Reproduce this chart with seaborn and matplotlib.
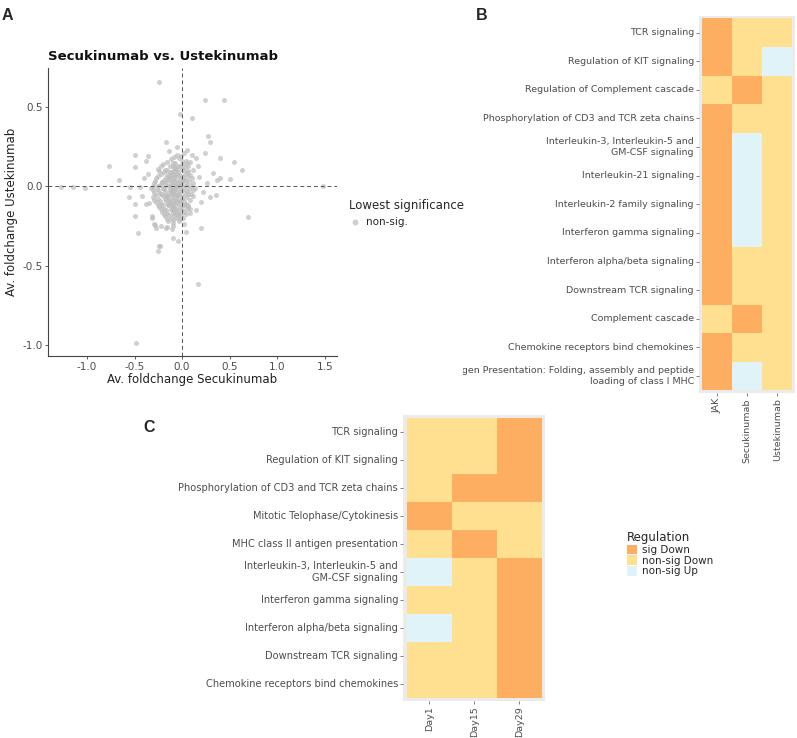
import pandas as pd
import matplotlib
matplotlib.use("Agg")
import matplotlib.pyplot as plt
import seaborn as sns
from matplotlib.colors import ListedColormap
from matplotlib.patches import Patch
from matplotlib.lines import Line2D
from matplotlib.transforms import Bbox, TransformedBbox

# === DATA ===
# panel A : (av. foldchange Secukinumab, av. foldchange Ustekinumab)
fc_points = [
    # dense core
    (-0.05, 0.20), (0.02, 0.21), (-0.12, 0.17), (-0.03, 0.18), (0.04, 0.16),
    (-0.20, 0.14), (-0.10, 0.15), (-0.04, 0.13), (0.01, 0.14), (0.06, 0.13),
    (-0.25, 0.11), (-0.16, 0.10), (-0.09, 0.12), (-0.05, 0.10), (0.00, 0.11), (0.05, 0.09),
    (-0.22, 0.08), (-0.15, 0.07), (-0.11, 0.09), (-0.06, 0.08), (-0.02, 0.07), (0.03, 0.08), (0.08, 0.07),
    (-0.27, 0.05), (-0.19, 0.04), (-0.14, 0.06), (-0.10, 0.05), (-0.06, 0.04), (-0.01, 0.05), (0.04, 0.04), (0.10, 0.05),
    (-0.30, 0.02), (-0.23, 0.01), (-0.17, 0.03), (-0.12, 0.02), (-0.08, 0.01), (-0.04, 0.02), (0.00, 0.03), (0.05, 0.01), (0.12, 0.02),
    (-0.33, -0.01), (-0.26, -0.02), (-0.20, -0.01), (-0.15, 0.00), (-0.11, -0.02), (-0.07, -0.01), (-0.03, 0.00), (0.02, -0.01), (0.07, -0.02), (0.14, -0.01),
    (-0.29, -0.04), (-0.23, -0.05), (-0.18, -0.03), (-0.14, -0.04), (-0.10, -0.05), (-0.06, -0.04), (-0.02, -0.03), (0.03, -0.04), (0.09, -0.05),
    (-0.31, -0.07), (-0.25, -0.08), (-0.20, -0.06), (-0.16, -0.07), (-0.12, -0.08), (-0.08, -0.07), (-0.04, -0.06), (0.00, -0.08), (0.05, -0.07), (0.11, -0.06),
    (-0.27, -0.10), (-0.22, -0.11), (-0.17, -0.09), (-0.13, -0.10), (-0.09, -0.11), (-0.05, -0.10), (-0.01, -0.09), (0.04, -0.11),
    (-0.24, -0.13), (-0.19, -0.14), (-0.14, -0.12), (-0.10, -0.13), (-0.06, -0.14), (-0.02, -0.13), (0.03, -0.12), (0.08, -0.14),
    (-0.21, -0.16), (-0.16, -0.17), (-0.11, -0.15), (-0.07, -0.16), (-0.03, -0.17), (0.02, -0.16),
    (-0.18, -0.19), (-0.12, -0.20), (-0.08, -0.18), (-0.04, -0.19), (0.01, -0.20),
    (-0.15, -0.22), (-0.09, -0.23), (-0.03, -0.22),
    (-0.13, 0.045), (-0.08, -0.025), (-0.03, -0.05), (-0.17, -0.055), (-0.085, 0.07), (-0.12, -0.03),
    (-0.06, -0.09), (-0.01, 0.015), (-0.21, 0.025), (-0.15, -0.115), (-0.07, 0.11), (-0.19, 0.09),
    # core, second pass
    (-0.08, 0.185), (-0.01, 0.19),
    (-0.16, 0.155), (-0.07, 0.15), (0.00, 0.16), (0.05, 0.15),
    (-0.22, 0.125), (-0.13, 0.13), (-0.07, 0.12), (-0.02, 0.125), (0.03, 0.12),
    (-0.24, 0.095), (-0.18, 0.10), (-0.13, 0.09), (-0.08, 0.095), (-0.04, 0.09), (0.01, 0.10), (0.06, 0.095),
    (-0.25, 0.065), (-0.17, 0.06), (-0.12, 0.07), (-0.08, 0.06), (-0.04, 0.065), (0.01, 0.06), (0.06, 0.065),
    (-0.28, 0.035), (-0.21, 0.03), (-0.16, 0.04), (-0.11, 0.035), (-0.07, 0.03), (-0.02, 0.035), (0.02, 0.04), (0.07, 0.035),
    (-0.31, 0.005), (-0.25, 0.00), (-0.18, 0.01), (-0.13, 0.005), (-0.09, 0.00), (-0.05, 0.005), (-0.01, 0.00), (0.04, 0.01), (0.09, 0.005),
    (-0.31, -0.025), (-0.24, -0.03), (-0.19, -0.02), (-0.13, -0.025), (-0.09, -0.03), (-0.05, -0.02), (0.00, -0.025), (0.05, -0.03), (0.11, -0.025),
    (-0.27, -0.055), (-0.21, -0.05), (-0.16, -0.06), (-0.12, -0.055), (-0.08, -0.05), (-0.04, -0.055), (0.01, -0.06), (0.06, -0.05),
    (-0.29, -0.085), (-0.23, -0.09), (-0.18, -0.08), (-0.14, -0.085), (-0.10, -0.09), (-0.06, -0.08), (-0.02, -0.085), (0.02, -0.09), (0.08, -0.085),
    (-0.25, -0.115), (-0.20, -0.12), (-0.15, -0.11), (-0.11, -0.115), (-0.07, -0.12), (-0.03, -0.11), (0.01, -0.115), (0.06, -0.12),
    (-0.22, -0.145), (-0.17, -0.15), (-0.12, -0.14), (-0.08, -0.145), (-0.04, -0.15), (0.00, -0.14), (0.05, -0.145),
    (-0.19, -0.175), (-0.14, -0.18), (-0.09, -0.17), (-0.05, -0.175), (-0.01, -0.18), (0.04, -0.175),
    (-0.16, -0.205), (-0.10, -0.21), (-0.06, -0.20), (-0.02, -0.205),
    # scattered halo
    (-0.24, 0.66), (0.245, 0.545), (0.44, 0.545), (-0.02, 0.455), (0.10, 0.43), (0.27, 0.315),
    (0.29, 0.28), (-0.17, 0.28), (-0.49, 0.20), (-0.36, 0.19), (-0.38, 0.16), (-0.77, 0.13),
    (-0.49, 0.12), (0.40, 0.177), (0.55, 0.154), (0.63, 0.10), (0.24, 0.21), (0.17, 0.126),
    (0.08, 0.155), (0.15, 0.177), (0.325, 0.082), (0.40, 0.05), (0.50, 0.046), (0.37, 0.04),
    (-0.66, 0.04), (-0.55, -0.005), (-0.44, -0.005), (-1.27, -0.005), (-1.15, -0.005), (-1.02, -0.01),
    (1.48, 0.0), (-0.555, -0.065), (-0.50, -0.113), (-0.50, -0.185), (-0.375, -0.11), (-0.35, -0.107),
    (-0.32, -0.19), (-0.30, -0.24), (-0.46, -0.296), (-0.24, -0.374), (-0.23, -0.376), (-0.25, -0.405),
    (-0.09, -0.327), (-0.04, -0.345), (0.04, -0.286), (0.196, -0.265), (0.69, -0.195), (0.29, -0.065),
    (0.36, -0.054), (0.22, -0.033), (0.06, -0.128), (0.08, -0.17), (-0.16, -0.254), (-0.10, -0.25),
    (-0.22, -0.25), (0.17, -0.617), (-0.48, -0.985), (-0.27, -0.265), (-0.17, -0.26), (-0.11, -0.27),
    (-0.32, -0.20), (-0.28, -0.245), (0.18, 0.06), (0.20, -0.10), (0.15, -0.15), (0.12, 0.10),
    (-0.40, 0.05), (-0.42, -0.06), (-0.36, 0.08), (0.26, 0.02), (0.02, -0.24), (-0.05, 0.25),
    (0.05, 0.23), (-0.14, 0.22), (0.10, 0.20),
]
secu_fc = [p[0] for p in fc_points]
uste_fc = [p[1] for p in fc_points]

# panel B
pathways_b = [
    "TCR signaling",
    "Regulation of KIT signaling",
    "Regulation of Complement cascade",
    "Phosphorylation of CD3 and TCR zeta chains",
    "Interleukin-3, Interleukin-5 and\nGM-CSF signaling",
    "Interleukin-21 signaling",
    "Interleukin-2 family signaling",
    "Interferon gamma signaling",
    "Interferon alpha/beta signaling",
    "Downstream TCR signaling",
    "Complement cascade",
    "Chemokine receptors bind chemokines",
    "Antigen Presentation: Folding, assembly and peptide\nloading of class I MHC",
]
treatments_b = ["JAK", "Secukinumab", "Ustekinumab"]
jak_reg = ["sig Down", "sig Down", "non-sig Down", "sig Down", "sig Down", "sig Down", "sig Down",
           "sig Down", "sig Down", "sig Down", "non-sig Down", "sig Down", "sig Down"]
secu_reg = ["non-sig Down", "non-sig Down", "sig Down", "non-sig Down", "non-sig Up", "non-sig Up",
            "non-sig Up", "non-sig Up", "non-sig Down", "non-sig Down", "sig Down", "non-sig Down", "non-sig Up"]
uste_reg = ["non-sig Down", "non-sig Up", "non-sig Down", "non-sig Down", "non-sig Down", "non-sig Down",
            "non-sig Down", "non-sig Down", "non-sig Down", "non-sig Down", "non-sig Down", "non-sig Down",
            "non-sig Down"]

# panel C
pathways_c = [
    "TCR signaling",
    "Regulation of KIT signaling",
    "Phosphorylation of CD3 and TCR zeta chains",
    "Mitotic Telophase/Cytokinesis",
    "MHC class II antigen presentation",
    "Interleukin-3, Interleukin-5 and\nGM-CSF signaling",
    "Interferon gamma signaling",
    "Interferon alpha/beta signaling",
    "Downstream TCR signaling",
    "Chemokine receptors bind chemokines",
]
days_c = ["Day1", "Day15", "Day29"]
day1_reg = ["non-sig Down", "non-sig Down", "non-sig Down", "sig Down", "non-sig Down",
            "non-sig Up", "non-sig Down", "non-sig Up", "non-sig Down", "non-sig Down"]
day15_reg = ["non-sig Down", "non-sig Down", "sig Down", "non-sig Down", "sig Down",
             "non-sig Down", "non-sig Down", "non-sig Down", "non-sig Down", "non-sig Down"]
day29_reg = ["sig Down", "sig Down", "sig Down", "non-sig Down", "non-sig Down",
             "sig Down", "sig Down", "sig Down", "sig Down", "sig Down"]

reg_levels = ["sig Down", "non-sig Down", "non-sig Up"]
reg_colors = ["#FDAE61", "#FEE090", "#E0F3F8"]

# === STYLE ===
sns.set_theme(style="white")
plt.rcParams["font.family"] = ["DejaVu Sans"]
plt.rcParams["axes.unicode_minus"] = False
GREY_TXT = "#4D4D4D"
W, H = 797, 738


def fx(px):
    return px / W


def fy(py):
    return 1 - py / H


fig = plt.figure(figsize=(W / 100, H / 100), dpi=100)

# === PANEL A : scatter ===
axa = fig.add_axes([fx(48), fy(356), fx(337) - fx(48), fy(68) - fy(356)])
sns.scatterplot(x=secu_fc, y=uste_fc, color="#BDBDBD", alpha=0.7, s=13, linewidth=0, ax=axa, legend=False)
axa.axhline(0, color="#555555", lw=0.7, ls=(0, (4, 3)))
axa.axvline(0, color="#555555", lw=0.7, ls=(0, (4, 3)))
axa.set_xlim(-1.41, 1.63)
axa.set_ylim(-1.07, 0.746)
axa.set_xticks([-1.0, -0.5, 0.0, 0.5, 1.0, 1.5])
axa.set_yticks([-1.0, -0.5, 0.0, 0.5])
axa.set_xticklabels(["-1.0", "-0.5", "0.0", "0.5", "1.0", "1.5"])
axa.set_yticklabels(["-1.0", "-0.5", "0.0", "0.5"])
for side in ["top", "right"]:
    axa.spines[side].set_visible(False)
for side in ["left", "bottom"]:
    axa.spines[side].set_color("#444444")
    axa.spines[side].set_linewidth(0.8)
axa.tick_params(left=True, bottom=True, length=2.5, width=0.6, color="#444444",
                labelsize=7.5, labelcolor=GREY_TXT, pad=1.5)
axa.set_xlabel("Av. foldchange Secukinumab", fontsize=8.5, color="#222222", labelpad=1)
axa.set_ylabel("Av. foldchange Ustekinumab", fontsize=8.5, color="#222222", labelpad=3)
fig.text(fx(48), fy(60), "Secukinumab vs. Ustekinumab", fontsize=9.5, fontweight="bold",
         va="baseline", ha="left", color="#111111")

leg_a = fig.legend(handles=[Line2D([], [], marker="o", ls="", color="#CFCFCF", markersize=3.2)],
                   labels=["non-sig."], title="Lowest significance", loc="upper left",
                   bbox_to_anchor=(fx(344), fy(194)), frameon=False, fontsize=7.5,
                   title_fontsize=8.5, handletextpad=0.4, borderpad=0, handlelength=1.2)
leg_a._legend_box.align = "left"


# === HEATMAPS ===
reg_cmap = ListedColormap(reg_colors)


def draw_heat(ax, codes, ncol, nrow, xpad, ypad, fsize):
    ax.set_facecolor("#EBEBEB")
    sns.heatmap(codes, cmap=reg_cmap, vmin=-0.5, vmax=2.5, cbar=False, ax=ax,
                linewidths=0)
    ax.set_xlim(-xpad, ncol + xpad)
    ax.set_ylim(nrow + ypad, -ypad)
    ax.set_xlabel("")
    ax.set_ylabel("")
    ax.tick_params(left=True, bottom=True, length=2.2, width=0.5, color=GREY_TXT,
                   labelsize=fsize, labelcolor=GREY_TXT, pad=1.5)
    ax.tick_params(axis="x", labelrotation=90, labelsize=6.8)
    ax.tick_params(axis="y", labelrotation=0)
    for lab in ax.get_xticklabels():
        lab.set_va("top")
    for lab in ax.get_yticklabels():
        lab.set_ha("right")
        lab.set_multialignment("right")
    for s in ax.spines.values():
        s.set_visible(False)


df_b = pd.DataFrame({"JAK": jak_reg, "Secukinumab": secu_reg, "Ustekinumab": uste_reg},
                    index=pathways_b)[treatments_b]
codes_b = df_b.apply(lambda col: col.map(reg_levels.index))
axb = fig.add_axes([fx(699), fy(393), fx(795) - fx(699), fy(15.7) - fy(393)])
draw_heat(axb, codes_b, 3, 13, 0.09, 0.09, 6.8)
# long label is cut at the left edge of panel B
clip = TransformedBbox(Bbox.from_extents(fx(463), 0, 1, 1), fig.transFigure)
for lab in axb.get_yticklabels():
    lab.set_clip_on(True)
    lab.set_clip_box(clip)

df_c = pd.DataFrame({"Day1": day1_reg, "Day15": day15_reg, "Day29": day29_reg},
                    index=pathways_c)[days_c]
codes_c = df_c.apply(lambda col: col.map(reg_levels.index))
axc = fig.add_axes([fx(403.3), fy(700.7), fx(545) - fx(403.3), fy(415) - fy(700.7)])
draw_heat(axc, codes_c, 3, 10, 0.075, 0.1, 7.1)

reg_handles = [Patch(facecolor=c, edgecolor="none") for c in reg_colors]
leg_r = fig.legend(handles=reg_handles, labels=reg_levels, title="Regulation", loc="upper left",
                   bbox_to_anchor=(fx(622), fy(526)), frameon=False, fontsize=7.5,
                   title_fontsize=8.5, handlelength=0.9, handleheight=1.0, labelspacing=0.05,
                   handletextpad=0.5, borderpad=0)
leg_r._legend_box.align = "left"

# panel letters
for letter, px, py in [("A", 2, 8), ("B", 476, 8), ("C", 143, 420)]:
    fig.text(fx(px), fy(py), letter, fontsize=11.5, fontweight="bold", va="top", ha="left",
             family=["Liberation Sans", "DejaVu Sans"])

plt.savefig("out.png", dpi=100)
plt.close()
